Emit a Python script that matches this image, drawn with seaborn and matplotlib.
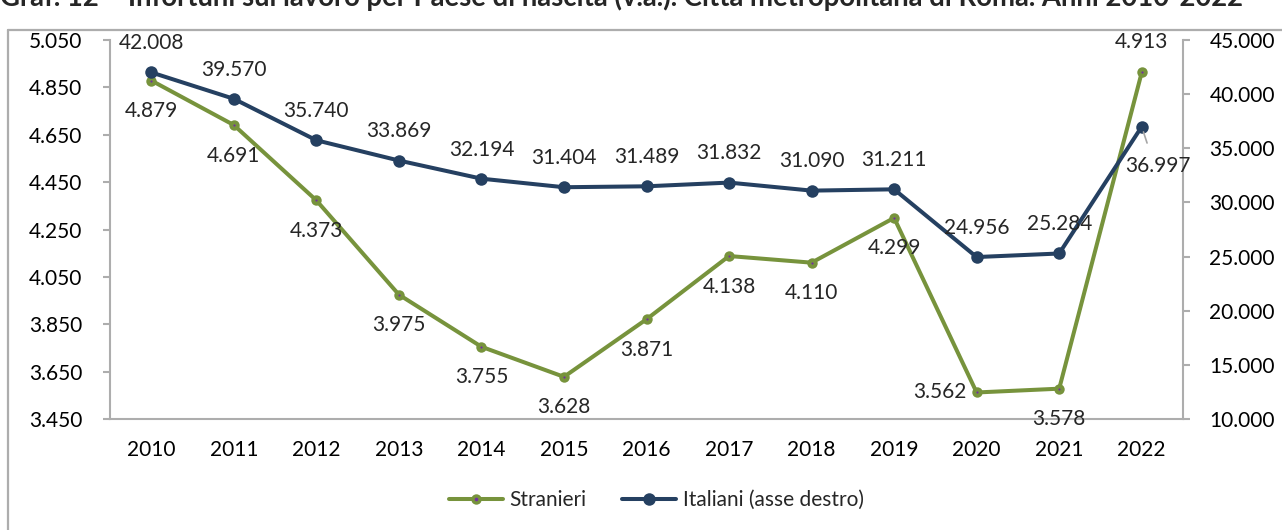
import matplotlib
matplotlib.use("Agg")
import pandas as pd
import matplotlib.pyplot as plt
import seaborn as sns
from matplotlib.lines import Line2D
from matplotlib.legend_handler import HandlerTuple
from matplotlib.ticker import FuncFormatter

# data
years = ["2010", "2011", "2012", "2013", "2014", "2015", "2016",
         "2017", "2018", "2019", "2020", "2021", "2022"]
stranieri = [4879, 4691, 4373, 3975, 3755, 3628, 3871, 4138, 4110, 4299, 3562, 3578, 4913]
italiani = [42008, 39570, 35740, 33869, 32194, 31404, 31489, 31832, 31090, 31211, 24956, 25284, 36997]
left_ticks = list(range(3450, 5051, 200))
right_ticks = list(range(10000, 45001, 5000))

TITLE = ("Graf. 12 \u2013 Infortuni sul lavoro per Paese di nascita (v.a.). "
         "Città metropolitana di Roma. Anni 2010-2022")

GREEN = "#77933C"
NAVY = "#254061"
DOT = "#7030A0"
GRAY = "#ADADAD"
FS = 15


def it_num(v, pos=None):
    return f"{v:,.0f}".replace(",", ".")


sns.set_style("white")
plt.rcParams["font.family"] = ["Lato", "DejaVu Sans"]

df = pd.DataFrame({"anno": years, "Stranieri": stranieri, "Italiani": italiani})

fig = plt.figure(figsize=(12.82, 5.30), dpi=100)
ax = fig.add_axes([110 / 1282, 1 - 419 / 530, (1183 - 110) / 1282, (419 - 40) / 530])
ax2 = ax.twinx()

sns.lineplot(data=df, x="anno", y="Stranieri", ax=ax, color=GREEN, linewidth=2.9,
             marker="o", markersize=7.5, markeredgewidth=0, sort=False, legend=False)
sns.scatterplot(data=df, x="anno", y="Stranieri", ax=ax, color=DOT, s=2.5,
                linewidth=0, legend=False, zorder=5)
sns.lineplot(data=df, x="anno", y="Italiani", ax=ax2, color=NAVY, linewidth=2.9,
             marker="o", markersize=9, markeredgewidth=0, sort=False, legend=False)

ax.set_xlim(-0.5, len(years) - 0.5)
ax.set_ylim(left_ticks[0], left_ticks[-1])
ax.set_yticks(left_ticks)
ax2.set_ylim(right_ticks[0], right_ticks[-1])
ax2.set_yticks(right_ticks)
ax.yaxis.set_major_formatter(FuncFormatter(it_num))
ax2.yaxis.set_major_formatter(FuncFormatter(it_num))
ax.set_xlabel("")
ax.set_ylabel("")
ax2.set_ylabel("")

for name, sp in ax.spines.items():
    sp.set_visible(name in ("left", "bottom"))
    sp.set_color(GRAY)
    sp.set_linewidth(1.5)
for name, sp in ax2.spines.items():
    sp.set_visible(name == "right")
    sp.set_color(GRAY)
    sp.set_linewidth(1.5)

ax.tick_params(axis="y", direction="out", length=5, width=1.5, color=GRAY,
               pad=15, labelsize=FS, labelcolor="black", left=True)
ax.tick_params(axis="x", length=0, pad=15, labelsize=FS, labelcolor="black")
ax2.tick_params(axis="y", direction="out", length=5, width=1.5, color=GRAY,
                pad=14, labelsize=FS, labelcolor="black", right=True)

# data labels
for i, v in enumerate(stranieri):
    if years[i] == "2020":
        ax.annotate(it_num(v), (i, v), xytext=(-7, 0), textcoords="offset points",
                    ha="right", va="center", fontsize=FS)
    elif years[i] == "2022":
        ax.annotate(it_num(v), (i, v), xytext=(0, 22), textcoords="offset points",
                    ha="center", va="center", fontsize=FS)
    else:
        ax.annotate(it_num(v), (i, v), xytext=(0, -22), textcoords="offset points",
                    ha="center", va="center", fontsize=FS)

for i, v in enumerate(italiani):
    if years[i] == "2022":
        ax2.annotate(it_num(v), (i, v), xytext=(11.5, -28), textcoords="offset points",
                     ha="center", va="center", fontsize=FS,
                     arrowprops=dict(arrowstyle="-", color="#A6A6A6", lw=1.2,
                                     shrinkA=7, shrinkB=4, relpos=(0.4, 1.0)))
    else:
        ax2.annotate(it_num(v), (i, v), xytext=(0, 21), textcoords="offset points",
                     ha="center", va="center", fontsize=FS)

# title (cut off at the top edge, as in the source image)
t = fig.text(0.0, 1 - 6 / 530, TITLE, fontweight="bold", ha="left", va="baseline",
             fontsize=16)
fig.canvas.draw()
w = t.get_window_extent().width
t.set_fontsize(16 * 1250 / w)

# outer chart frame
fig.add_artist(Line2D([8 / 1282, 8 / 1282], [0, 1 - 30 / 530], transform=fig.transFigure,
                      color=GRAY, lw=1.6))
fig.add_artist(Line2D([8 / 1282, 1], [1 - 30 / 530, 1 - 30 / 530], transform=fig.transFigure,
                      color=GRAY, lw=1.6))

# legend
h_str = (Line2D([], [], color=GREEN, lw=2.9, marker="o", markersize=7.5, markeredgewidth=0),
         Line2D([], [], ls="", marker="o", markersize=1.6, color=DOT))
h_ita = Line2D([], [], color=NAVY, lw=2.9, marker="o", markersize=9, markeredgewidth=0)
fig.legend([h_str, h_ita], ["Stranieri", "Italiani (asse destro)"], loc="center",
           bbox_to_anchor=(0.512, 1 - 500 / 530), ncol=2, frameon=False, fontsize=FS,
           handlelength=2.6, handletextpad=0.3, columnspacing=1.7,
           handler_map={tuple: HandlerTuple(ndivide=1)})

fig.savefig("out.png", dpi=100)
